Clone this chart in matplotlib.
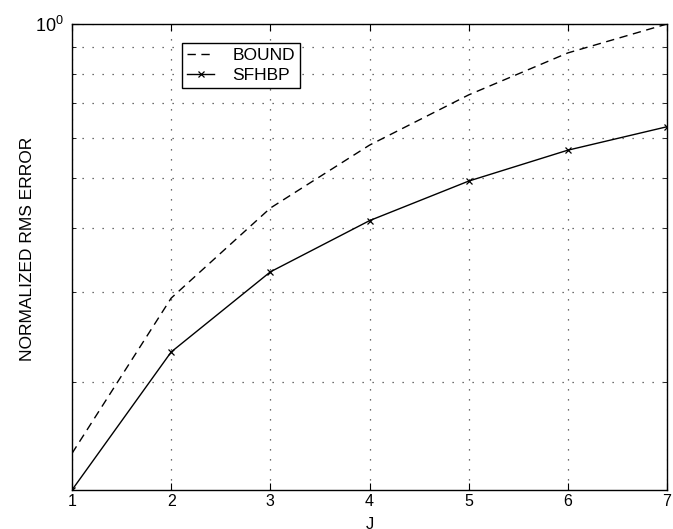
import numpy as np
import matplotlib
matplotlib.use('Agg')
import matplotlib.pyplot as plt
from matplotlib.ticker import LogLocator, NullFormatter, FixedLocator

plt.rcParams['font.family'] = ['Liberation Sans', 'DejaVu Sans']
plt.rcParams['mathtext.fontset'] = 'custom'
plt.rcParams['mathtext.rm'] = 'Liberation Sans'
plt.rcParams['mathtext.it'] = 'Liberation Sans:italic'
plt.rcParams['mathtext.bf'] = 'Liberation Sans:bold'

# values
J = [1, 2, 3, 4, 5, 6, 7]
bound = [0.145, 0.2915, 0.437, 0.580, 0.727, 0.878, 1.0]
sfhbp = [0.123, 0.2288, 0.328, 0.413, 0.4934, 0.567, 0.630]

fig = plt.figure(figsize=(6.73, 5.29), dpi=100)
ax = fig.add_axes([72/673, 39/529, 595/673, 466/529])

ax.plot(J, bound, color='k', lw=1.0, dashes=(6, 4), label='BOUND')
ax.plot(J, sfhbp, color='k', lw=1.0, marker='x', markersize=5, markeredgewidth=0.9, label='SFHBP')

ax.set_yscale('log')
ax.set_xlim(1, 7)
ax.set_ylim(min(sfhbp), 1.0)

ax.yaxis.set_major_locator(FixedLocator([1.0]))
ax.yaxis.set_minor_locator(LogLocator(base=10, subs=np.arange(2, 10)))
ax.yaxis.set_minor_formatter(NullFormatter())
ax.set_yticklabels([r'$10^0$'])
ax.set_xticks(J)

ax.tick_params(which='both', direction='in', top=True, right=True, labelsize=11.5, pad=3)
ax.tick_params(axis='y', labelsize=13, pad=6)
ax.tick_params(which='major', length=5)
ax.tick_params(which='minor', length=3)

grid_ls = (0, (1, 7))
ax.grid(True, which='major', axis='x', linestyle=grid_ls, color='0.25', lw=0.9)
ax.grid(True, which='both', axis='y', linestyle=grid_ls, color='0.25', lw=0.9)

ax.set_ylabel('NORMALIZED RMS ERROR', fontsize=12.5)
ax.yaxis.set_label_coords(-0.062, 0.518)
ax.set_xlabel('J', fontsize=12)
ax.xaxis.set_label_coords(0.5, -0.058)
ax.xaxis.label.set_va('top')

leg = ax.legend(loc='upper left', bbox_to_anchor=(0.185, 0.959), fontsize=12.5,
                frameon=True, fancybox=False, edgecolor='k', framealpha=1,
                handlelength=1.55, borderaxespad=0, borderpad=0.3, labelspacing=0.25,
                handletextpad=1.05)
leg.get_frame().set_linewidth(1.0)

for s in ax.spines.values():
    s.set_linewidth(1.0)

fig.savefig('out.png', dpi=100)
